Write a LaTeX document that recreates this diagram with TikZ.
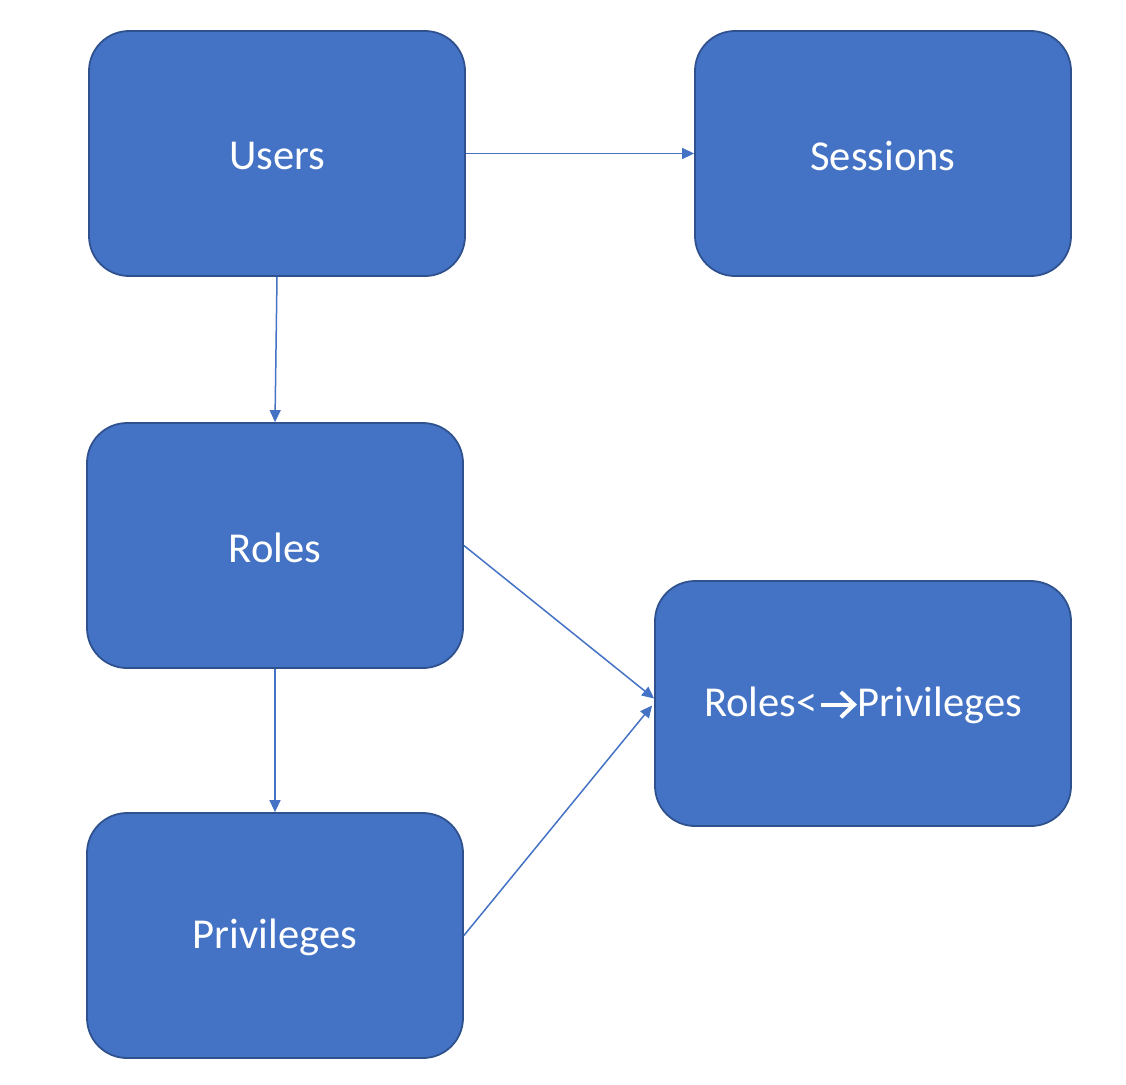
\documentclass[tikz,border=0pt]{standalone}
\usepackage{fontspec}
\setmainfont{Carlito}
\usetikzlibrary{arrows.meta}
\definecolor{boxfill}{HTML}{4472C4}
\definecolor{boxline}{HTML}{2F528F}
\newcommand\boxlbl[1]{\raisebox{-1pt}[\height][\depth]{#1}}
\newcommand\openarrow{\tikz[baseline=0pt,x=1pt,y=1pt,sharp corners]{\draw[white,line width=2pt,line cap=butt,sharp corners] (0,6)--(16,6); \draw[white,line width=2pt,line join=miter,sharp corners] (9.8,12.3)--(16.4,6)--(9.8,-0.3);}}
\begin{document}
\begin{tikzpicture}[x=0.5pt,y=-0.5pt,
  box/.style={draw=boxline, line width=0.9pt, fill=boxfill, rounded corners=20pt,
    minimum width=188pt, minimum height=122.5pt, text=white, font=\fontsize{21.3}{25}\selectfont, inner sep=0pt},
  conn/.style={draw=boxfill, line width=0.75pt, -{Triangle[length=6pt,width=5.5pt]}}]
\useasboundingbox (0,0) rectangle (1126,1084);
\node[box] (users) at (277,153.5) {\boxlbl{Users}};
\node[box] (sessions) at (883,153.5) {\boxlbl{Sessions}};
\node[box] (roles) at (275,545.5) {\boxlbl{Roles}};
\node[box] (priv) at (275,935.5) {\boxlbl{Privileges}};
\node[box, minimum width=208pt] (rp) at (863,703.5) {\boxlbl{Roles<\hspace{0.8pt}\openarrow\hspace{0.8pt}Privileges}};
\coordinate (rpa) at ([yshift=2.5pt]rp.west);
\coordinate (rpb) at ([yshift=-1pt,xshift=-1pt]rp.west);
\draw[conn] (users.east) -- (sessions.west);
\draw[conn] (users.south) -- (roles.north);
\draw[conn] (roles.south) -- (priv.north);
\draw[conn] (roles.east) -- (rpa);
\draw[conn] (priv.east) -- (rpb);
\end{tikzpicture}
\end{document}
